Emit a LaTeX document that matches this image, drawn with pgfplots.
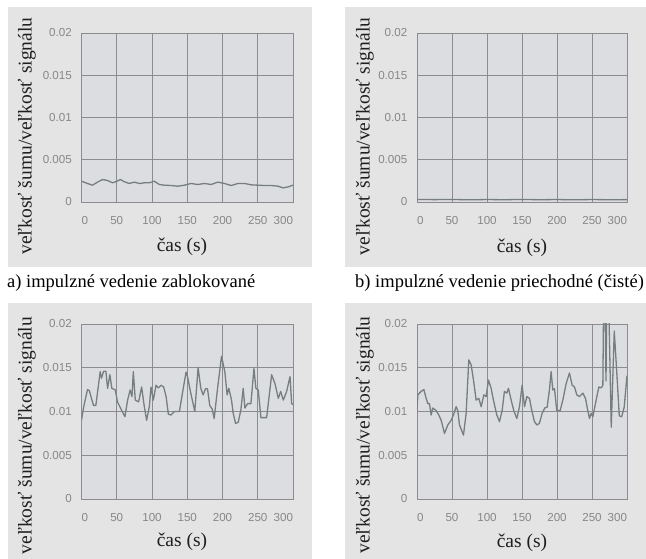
\documentclass[border=0pt]{standalone}
\usepackage{fontspec}
\setmainfont{Liberation Serif}
\newfontfamily\tickfont{Liberation Sans}
\usepackage{pgfplots}
\pgfplotsset{compat=1.18}
\definecolor{boxbg}{RGB}{228,228,228}
\definecolor{plotbg}{RGB}{220,221,225}
\definecolor{gridc}{RGB}{140,140,140}
\definecolor{curve}{RGB}{118,126,126}
\definecolor{tickc}{RGB}{135,135,135}

\pgfplotsset{
  panel/.style={
    scale only axis, xmin=0, xmax=300, ymin=0, ymax=0.02,
    xtick={0,50,100,150,200,250,300},
    xticklabels={\makebox[0pt][l]{0},50,100,150,200,250,\makebox[0pt][r]{300}},
    ytick={0,0.005,0.01,0.015,0.02},
    yticklabels={0,0.005,0.01,0.015,0.02},
    scaled y ticks=false,
    grid=major, major grid style={gridc, line width=0.9pt},
    axis line style={gridc, line width=0.9pt},
    major tick length=0pt,
    axis background/.style={fill=plotbg},
    tick label style={font=\tickfont\fontsize{11.6}{12}\selectfont, text=tickc, inner sep=0pt},
    yticklabel style={xshift=-9.5pt},
    xticklabel style={yshift=-14pt},
    label style={font=\fontsize{19.5}{20}\selectfont, text=black!88},
    xlabel={čas (s)}, ylabel={veľkosť šumu/veľkosť signálu},
  },
  curveplot/.style={curve, line width=1.3pt, line join=round, mark=none},
}

\begin{document}
\begin{tikzpicture}[x=1pt,y=1pt]
\useasboundingbox (0,0) rectangle (646,559);
% grey panels
\fill[boxbg] (8,292) rectangle (312,552);
\fill[boxbg] (345,292) rectangle (646,552);
\fill[boxbg] (8,0) rectangle (312,256);
\fill[boxbg] (345,0) rectangle (646,256);

% a) blocked line
\begin{axis}[panel, at={(81.5pt,357pt)}, anchor=south west,
    width=211.5pt, height=169pt,
    xlabel style={at={(rel axis cs:0.475,-0.29)}, anchor=base},
    ylabel style={at={(rel axis cs:-0.258,0.39)}, anchor=center}]
\addplot[curveplot] coordinates {
 (0,0.00246)(8.5,0.00219)(15.6,0.00199)(22.7,0.00235)(29.9,0.00266)(37,0.00254)
 (44,0.00227)(50.2,0.00246)(55,0.00266)(60.7,0.0024)(67.8,0.00219)(74.9,0.00235)
 (82,0.00219)(89.1,0.00227)(96.2,0.00227)(103.3,0.00246)(110.4,0.00207)(117.5,0.00199)
 (127,0.00195)(136.5,0.00187)(146,0.00199)(155.4,0.00219)(164.9,0.00207)(174.4,0.00219)
 (183.9,0.00207)(193.4,0.00235)(202.9,0.00219)(212.3,0.00195)(221.8,0.00219)(231.3,0.00219)
 (240.8,0.00203)(250.3,0.00199)(259.8,0.00195)(269.3,0.00195)(278.8,0.00187)(285.9,0.00167)
 (293,0.00179)(300,0.00199)};
\end{axis}

% b) clean line
\begin{axis}[panel, at={(417pt,357pt)}, anchor=south west,
    width=210pt, height=169pt,
    xlabel style={at={(rel axis cs:0.5,-0.30)}, anchor=base},
    ylabel style={at={(rel axis cs:-0.248,0.388)}, anchor=center}]
\addplot[curveplot] coordinates {
 (0,0.00030)(25,0.00028)(50,0.00030)(75,0.00026)(100,0.00029)(125,0.00027)(150,0.00030)
 (175,0.00027)(200,0.00029)(225,0.00026)(250,0.00029)(275,0.00027)(300,0.00028)};
\end{axis}

% c)
\begin{axis}[panel, at={(81.5pt,60pt)}, anchor=south west,
    width=211.5pt, height=175pt,
    xlabel style={at={(rel axis cs:0.475,-0.269)}, anchor=base},
    ylabel style={at={(rel axis cs:-0.258,0.363)}, anchor=center}]
\addplot[curveplot] coordinates {
 (0,0.0090)(3,0.0105)(8.5,0.0125)(11,0.0124)(17,0.0107)(20.4,0.0107)(26.5,0.01455)
 (28.4,0.0138)(31.3,0.0146)(34.6,0.0146)(37,0.01265)(40.3,0.0142)(43,0.01265)(48,0.01246)
 (51,0.0111)(55.9,0.0103)(61.6,0.0094)(65.4,0.0113)(69,0.01246)(71.6,0.0117)(73.5,0.01455)
 (76.3,0.0113)(81,0.0111)(85.3,0.0128)(89.1,0.01055)(92.4,0.0090)(96.2,0.01055)(98.6,0.0128)
 (101.9,0.0113)(105.7,0.0130)(109,0.0127)(112.8,0.0130)(116.6,0.0128)(120,0.0117)(123.2,0.0097)
 (127,0.0096)(131.7,0.0100)(138.9,0.0100)(143.6,0.0123)(148.3,0.0145)(150.3,0.0140)(155,0.0121)
 (160.7,0.0100)(165.4,0.0150)(169.2,0.01265)(172.5,0.0119)(175.9,0.0126)(178.7,0.0126)
 (182,0.01067)(185.3,0.0103)(188.2,0.0092)(192.5,0.0123)(198.6,0.0163)(203.3,0.01455)
 (206.6,0.0119)(209,0.01265)(212.8,0.0113)(215.2,0.0098)(218.5,0.00865)(222.3,0.00876)
 (226.1,0.0102)(229.4,0.01265)(231.8,0.0104)(235.6,0.0109)(240.3,0.0109)(244.6,0.0149)
 (247.4,0.01265)(250.7,0.01246)(254.5,0.0093)(262.6,0.0093)(269.7,0.0142)(274.4,0.0132)
 (279.2,0.0115)(282.5,0.0123)(286.3,0.0113)(291,0.0123)(295.8,0.0140)(298.1,0.0109)(300,0.0108)};
\end{axis}

% d)
\begin{axis}[panel, at={(417pt,60pt)}, anchor=south west,
    width=210pt, height=175pt,
    xlabel style={at={(rel axis cs:0.5,-0.28)}, anchor=base},
    ylabel style={at={(rel axis cs:-0.248,0.366)}, anchor=center}]
\addplot[curveplot] coordinates {
 (0,0.0101)(1.2,0.0119)(6,0.0123)(9.8,0.0125)(13.1,0.0115)(15.5,0.0109)(17.8,0.0109)
 (20.2,0.0096)(22.6,0.0104)(27.4,0.0101)(31.1,0.0096)(34.5,0.0090)(39.3,0.0075)(44,0.00846)
 (48.8,0.0090)(52.1,0.0096)(55.9,0.01055)(58.3,0.0101)(60.7,0.00846)(66.4,0.0073)(70.2,0.0098)
 (74,0.0159)(77.4,0.0153)(80.7,0.0136)(84.5,0.0113)(88.3,0.0115)(91.7,0.01055)(95.5,0.0119)
 (98.8,0.0117)(102.1,0.0136)(105.9,0.01265)(109.2,0.0113)(114,0.0096)(117.8,0.00884)
 (121.6,0.0101)(124.9,0.0123)(128.3,0.0121)(130.7,0.01265)(134.5,0.0113)(138.3,0.0101)
 (142.6,0.0092)(146.4,0.01055)(150.2,0.0130)(153.6,0.01055)(156.9,0.0117)(160.7,0.0115)
 (164,0.0101)(167.8,0.00884)(171.2,0.00846)(174.9,0.00865)(178.8,0.0098)(182.6,0.0104)
 (185.9,0.0105)(189.2,0.01246)(191.6,0.01455)(194,0.01246)(196.4,0.0126)(199.7,0.0101)
 (204.5,0.0101)(208.3,0.0113)(213.1,0.0132)(217.8,0.0144)(221.7,0.0130)(225,0.0128)
 (228.3,0.0119)(232.1,0.0117)(236.9,0.0121)(240.7,0.0115)(244,0.0101)(246.4,0.0092)
 (248.8,0.0098)(251.2,0.0094)(255.9,0.0113)(259.8,0.0128)(263.1,0.0127)(265.5,0.0130)
 (267.5,0.030)(270,0.0135)(272,0.030)(277.5,0.0082)(281.8,0.0192)(285,0.0150)(289,0.0095)
 (292.4,0.0094)(296,0.0105)(300,0.0141)};
\end{axis}

% captions
\node[anchor=base west, inner sep=0pt, font=\fontsize{18.5}{19}\selectfont] at (7,271)
  {a) impulzné vedenie zablokované};
\node[anchor=base west, inner sep=0pt, font=\fontsize{18.5}{19}\selectfont] at (355,271)
  {b) impulzné vedenie priechodné (čisté)};
\end{tikzpicture}
\end{document}
